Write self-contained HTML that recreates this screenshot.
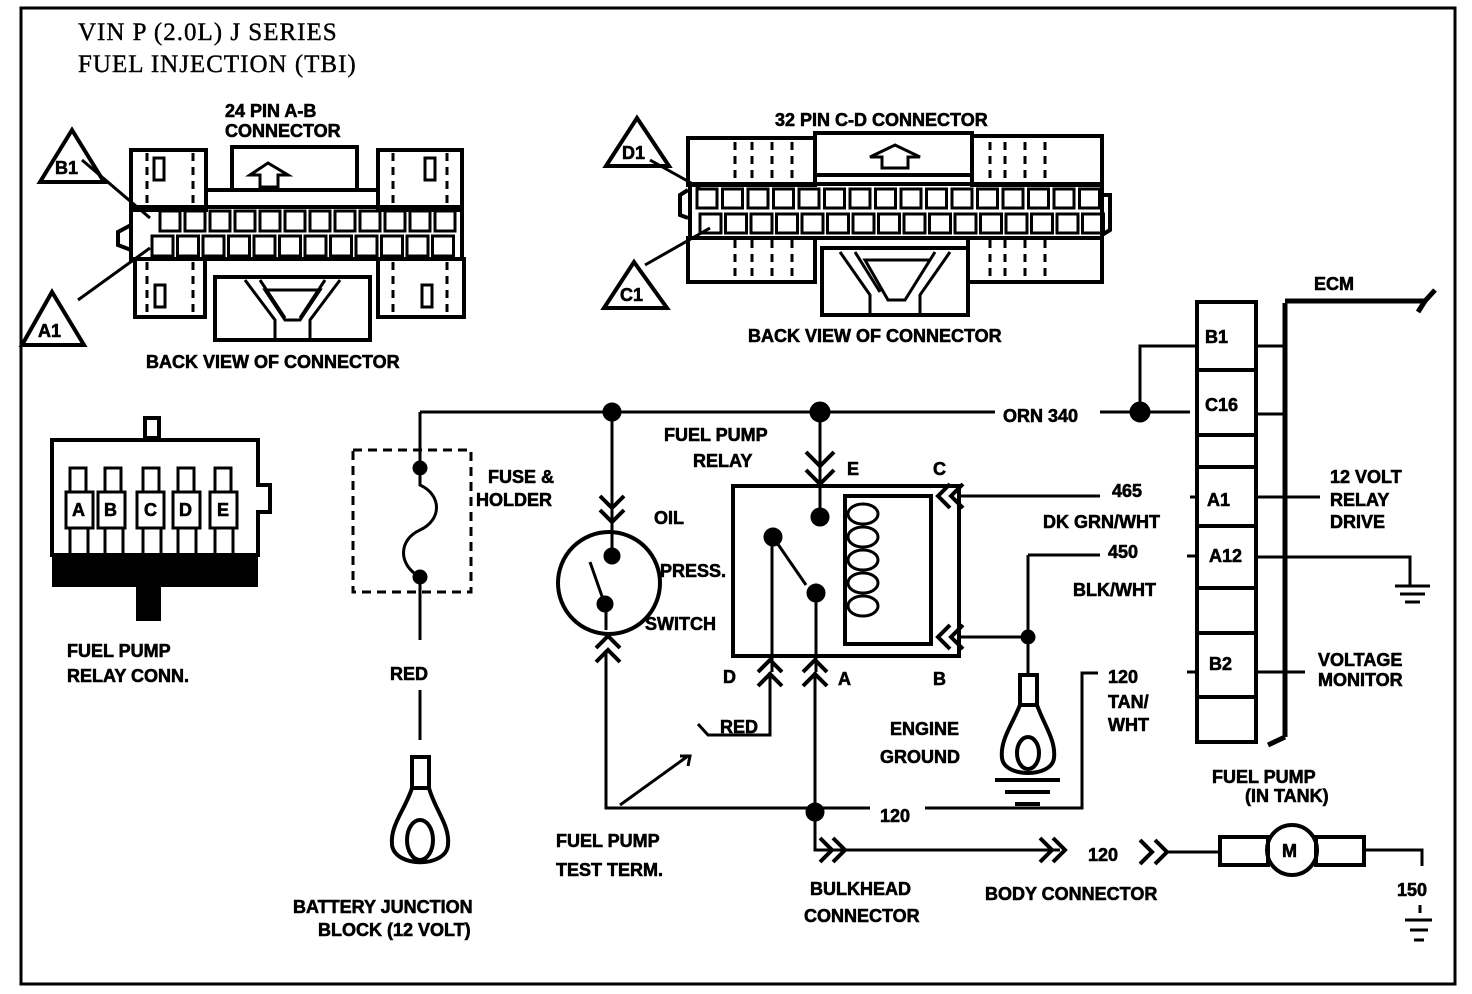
<!DOCTYPE html>
<html><head><meta charset="utf-8"><style>
html,body{margin:0;padding:0;background:#fff;}
svg{display:block}
.t{font-family:"Liberation Sans",sans-serif;font-weight:bold;font-size:18px;fill:#000;stroke:#000 !important;stroke-width:0.6px !important}
.s{font-family:"Liberation Serif",serif;font-size:25px;fill:#000;letter-spacing:1px;stroke:#000 !important;stroke-width:0.4px !important}
</style></head><body>
<svg id="sv" width="1472" height="994" viewBox="0 0 1472 994" xmlns="http://www.w3.org/2000/svg" fill="none" stroke="#000" stroke-width="3">
<rect x="21" y="8" width="1434" height="976" stroke-width="3"/>
<text class="s" x="78" y="40">VIN  P  (2.0L)  J  SERIES</text>
<text class="s" x="78" y="72">FUEL  INJECTION  (TBI)</text>

<!-- connector 1 -->
<text class="t" x="225" y="117">24 PIN A-B</text>
<text class="t" x="225" y="137">CONNECTOR</text>
<g id="c1" stroke-width="4">
<rect x="131" y="150" width="75" height="60"/>
<rect x="232" y="147" width="125" height="43"/>
<rect x="378" y="150" width="84" height="60"/>
<path d="M206,190 H232 M357,190 H378"/>
<rect x="131" y="207" width="331" height="52"/>
<rect x="135" y="259" width="70" height="58"/>
<rect x="215" y="277" width="155" height="63"/>
<rect x="378" y="259" width="86" height="58"/>
<path d="M131,225 L118,232 L118,245 L131,250"/>
<rect x="154" y="158" width="10" height="22" stroke-width="3"/>
<rect x="425" y="158" width="10" height="22" stroke-width="3"/>
<rect x="155" y="285" width="10" height="22" stroke-width="3"/>
<rect x="422" y="285" width="10" height="22" stroke-width="3"/>
<path d="M147,153 V205 M193,153 V205 M393,153 V205 M447,153 V205 M147,262 V312 M193,262 V312 M393,262 V312 M447,262 V312" stroke-width="3" stroke-dasharray="8,6"/>
<path d="M250,175 L268,163 L288,175 H278 V187 H260 V175 Z" stroke-width="3"/>
<path d="M245,280 L275,320 V340 M340,280 L310,320 V340 M260,280 L285,318 M325,280 L300,318 M265,290 H320 L300,320 H285 Z" stroke-width="3"/>
</g>
<path d="M40,182 L72,130 L104,182 Z" stroke-width="4"/>
<text class="t" x="55" y="174" font-size="16">B1</text>
<path d="M82,160 L150,218" stroke-width="3"/>
<path d="M22,345 L52,292 L84,345 Z" stroke-width="4"/>
<text class="t" x="38" y="337" font-size="16">A1</text>
<path d="M78,300 L150,248" stroke-width="3"/>
<text class="t" x="146" y="368">BACK VIEW OF CONNECTOR</text>

<!-- connector 2 -->
<text class="t" x="775" y="126">32 PIN C-D  CONNECTOR</text>
<g stroke-width="4">
<rect x="688" y="138" width="127" height="47"/>
<rect x="815" y="133" width="157" height="42"/>
<rect x="972" y="136" width="130" height="49"/>
<rect x="690" y="184" width="412" height="54"/>
<rect x="688" y="238" width="127" height="44"/>
<rect x="822" y="248" width="146" height="67"/>
<rect x="968" y="238" width="134" height="44"/>
<path d="M688,190 L680,195 V215 L688,218 M1102,195 L1110,195 V230 L1102,235"/>
<path d="M735,142 V182 M752,142 V182 M772,142 V182 M792,142 V182 M990,142 V182 M1005,142 V182 M1025,142 V182 M1045,142 V182 M735,240 V278 M752,240 V278 M772,240 V278 M792,240 V278 M990,240 V278 M1005,240 V278 M1025,240 V278 M1045,240 V278" stroke-width="3" stroke-dasharray="8,6"/>
<path d="M870,157 L895,145 L920,157 H908 V168 H882 V157 Z" stroke-width="3"/>
<path d="M840,252 L870,295 V315 M950,252 L920,295 V315 M855,252 L880,292 M935,252 L910,292 M865,260 H930 L905,300 H888 Z" stroke-width="3"/>
</g>
<path d="M606,166 L637,118 L669,166 Z" stroke-width="4"/>
<text class="t" x="622" y="159" font-size="16">D1</text>
<path d="M650,160 L700,188" stroke-width="3"/>
<path d="M604,308 L634,262 L667,308 Z" stroke-width="4"/>
<text class="t" x="620" y="301" font-size="16">C1</text>
<path d="M645,265 L710,228" stroke-width="3"/>
<text class="t" x="748" y="342">BACK VIEW OF CONNECTOR</text>

<!-- relay conn -->
<g stroke-width="4">
<rect x="145" y="418" width="14" height="20"/>
<path d="M52,440 H258 V485 H270 V512 H258 V555 H52 Z"/>
</g>
<rect x="52" y="555" width="206" height="32" fill="#000" stroke="none"/>
<rect x="136" y="587" width="25" height="34" fill="#000" stroke="none"/>
<g stroke-width="3">
<rect x="66" y="492" width="27" height="36"/><rect x="98" y="492" width="27" height="36"/><rect x="137" y="492" width="27" height="36"/><rect x="173" y="492" width="27" height="36"/><rect x="210" y="492" width="27" height="36"/>
<path d="M70,468 h16 v24 h-16 z M105,468 h16 v24 h-16 z M143,468 h16 v24 h-16 z M178,468 h16 v24 h-16 z M215,468 h16 v24 h-16 z"/>
<path d="M70,528 v27 h18 v-27 M105,528 v27 h18 v-27 M143,528 v27 h18 v-27 M178,528 v27 h18 v-27 M215,528 v27 h18 v-27"/>
</g>
<g font-size="17">
<text class="t" x="72" y="516">A</text><text class="t" x="104" y="516">B</text><text class="t" x="144" y="516">C</text><text class="t" x="179" y="516">D</text><text class="t" x="217" y="516">E</text>
</g>
<text class="t" x="67" y="657">FUEL PUMP</text>
<text class="t" x="67" y="682">RELAY CONN.</text>

<!-- main wire -->
<path d="M420,412 H995 M1100,412 H1190 M420,412 V468 M420,468 V485 C442,495 442,520 420,530 C398,540 398,565 420,577 V640 M420,690 V740"/>
<circle cx="612" cy="412" r="8" fill="#000"/><circle cx="820" cy="412" r="9" fill="#000"/><circle cx="1140" cy="412" r="9" fill="#000"/>
<circle cx="420" cy="468" r="6" fill="#000"/><circle cx="420" cy="577" r="6" fill="#000"/>
<rect x="353" y="450" width="118" height="142" stroke-dasharray="9,6" stroke-width="3"/>
<text class="t" x="488" y="483">FUSE &amp;</text>
<text class="t" x="476" y="506">HOLDER</text>
<text class="t" x="390" y="680">RED</text>
<!-- battery lug -->
<g stroke-width="4">
<path d="M412,757 H429 V788 H412 Z"/>
<path d="M412,788 C405,810 390,825 392,845 C395,868 446,868 448,845 C450,825 435,810 429,788"/>
<ellipse cx="420" cy="840" rx="13" ry="20"/>
</g>
<text class="t" x="293" y="913">BATTERY JUNCTION</text>
<text class="t" x="318" y="936">BLOCK (12 VOLT)</text>

<!-- oil switch -->
<path d="M612,412 V520" />
<path d="M600,496 L612,508 L624,496 M600,510 L612,522 L624,510" stroke-width="4"/>
<circle cx="609" cy="583" r="51" stroke-width="4"/>
<path d="M612,522 V556 M590,562 L604,602 M606,605 V630" stroke-width="3"/>
<circle cx="612" cy="556" r="7" fill="#000"/><circle cx="605" cy="604" r="7" fill="#000"/>
<path d="M596,648 L608,636 L620,648 M596,662 L608,650 L620,662" stroke-width="4"/>
<path d="M606,650 V808 H870 M925,808 H1082 V673 H1098"/>
<text class="t" x="654" y="524">OIL</text>
<text class="t" x="660" y="577">PRESS.</text>
<text class="t" x="645" y="630">SWITCH</text>
<text class="t" x="664" y="441">FUEL PUMP</text>
<text class="t" x="693" y="467">RELAY</text>
<path d="M620,805 L688,756" stroke-width="3"/>
<path d="M680,756 L690,756 L688,766" stroke-width="3"/>
<text class="t" x="556" y="847">FUEL PUMP</text>
<text class="t" x="556" y="876">TEST TERM.</text>

<!-- relay -->
<path d="M820,412 V518"/>
<path d="M806,452 L820,466 L834,452 M806,470 L820,484 L834,470" stroke-width="4"/>
<rect x="733" y="486" width="226" height="170" stroke-width="4"/>
<rect x="845" y="496" width="86" height="148" stroke-width="4"/>
<g stroke-width="3">
<ellipse cx="863" cy="514" rx="15" ry="10"/><ellipse cx="863" cy="537" rx="15" ry="10"/><ellipse cx="863" cy="560" rx="15" ry="10"/><ellipse cx="863" cy="583" rx="15" ry="10"/><ellipse cx="863" cy="606" rx="15" ry="10"/>
</g>
<circle cx="820" cy="517" r="8" fill="#000"/>
<circle cx="773" cy="537" r="8" fill="#000"/>
<circle cx="816" cy="593" r="8" fill="#000"/>
<path d="M773,537 L806,585 M772,537 V672 M816,593 V672"/>
<path d="M758,672 L770,660 L782,672 M758,686 L770,674 L782,686" stroke-width="4"/>
<path d="M803,672 L815,660 L827,672 M803,686 L815,674 L827,686" stroke-width="4"/>
<path d="M770,672 V735 H708 L698,724 M815,672 V850 H850"/>
<circle cx="815" cy="812" r="8" fill="#000"/>
<text class="t" x="720" y="733">RED</text>
<text class="t" x="847" y="475">E</text>
<text class="t" x="933" y="475">C</text>
<text class="t" x="723" y="683">D</text>
<text class="t" x="838" y="685">A</text>
<text class="t" x="933" y="685">B</text>
<path d="M950,484 L938,496 L950,508 M963,484 L951,496 L963,508" stroke-width="4"/>
<path d="M960,496 H1100"/>
<path d="M950,625 L938,637 L950,649 M963,625 L951,637 L963,649" stroke-width="4"/>
<path d="M960,637 H1028 M1028,555 V675 M1028,555 H1100"/>
<circle cx="1028" cy="637" r="6" fill="#000"/>
<text class="t" x="1112" y="497">465</text>
<text class="t" x="1043" y="528">DK GRN/WHT</text>
<text class="t" x="1108" y="558">450</text>
<text class="t" x="1073" y="596">BLK/WHT</text>
<text class="t" x="1108" y="683">120</text>
<text class="t" x="1108" y="708">TAN/</text>
<text class="t" x="1108" y="731">WHT</text>
<!-- engine ground lug -->
<g stroke-width="4">
<path d="M1020,675 H1037 V705 H1020 Z"/>
<path d="M1020,705 C1012,725 1000,740 1002,758 C1004,778 1052,778 1054,758 C1056,740 1044,725 1037,705"/>
<ellipse cx="1028" cy="753" rx="11" ry="16"/>
<path d="M995,780 H1060 M1005,792 H1050 M1015,804 H1040"/>
</g>
<text class="t" x="890" y="735">ENGINE</text>
<text class="t" x="880" y="763">GROUND</text>
<text class="t" x="880" y="822">120</text>

<!-- bulkhead / pump -->
<path d="M820,838 L832,850 L820,862 M833,838 L845,850 L833,862" stroke-width="4"/>
<path d="M845,850 H1060"/>
<path d="M1040,838 L1052,850 L1040,862 M1053,838 L1065,850 L1053,862" stroke-width="4"/>
<text class="t" x="1088" y="861">120</text>
<path d="M1140,840 L1152,852 L1140,864 M1155,840 L1167,852 L1155,864" stroke-width="4"/>
<path d="M1167,852 H1220"/>
<rect x="1220" y="837" width="48" height="28" stroke-width="4"/>
<circle cx="1292" cy="850" r="25" stroke-width="4"/>
<rect x="1316" y="837" width="48" height="28" stroke-width="4"/>
<text class="t" x="1282" y="857" font-size="17">M</text>
<path d="M1364,850 H1422 V866"/>
<text class="t" x="1212" y="783">FUEL PUMP</text>
<text class="t" x="1245" y="802" font-size="12">(IN TANK)</text>
<text class="t" x="810" y="895">BULKHEAD</text>
<text class="t" x="804" y="922">CONNECTOR</text>
<text class="t" x="985" y="900">BODY CONNECTOR</text>
<text class="t" x="1397" y="896">150</text>
<path d="M1420,905 V913 M1405,920 H1432 M1410,930 H1428 M1414,940 H1424" stroke-width="3"/>

<!-- ECM -->
<rect x="1197" y="302" width="59" height="440" stroke-width="4"/>
<path d="M1197,370 H1256 M1197,435 H1256 M1197,467 H1256 M1197,526 H1256 M1197,588 H1256 M1197,633 H1256 M1197,697 H1256" stroke-width="4"/>
<path d="M1285,303 V737 M1285,301 H1425 L1435,290 M1425,301 L1418,312 M1285,737 L1268,745" stroke-width="5"/>
<text class="t" x="1314" y="290">ECM</text>
<text class="t" x="1205" y="343">B1</text>
<text class="t" x="1205" y="411">C16</text>
<text class="t" x="1207" y="506">A1</text>
<text class="t" x="1209" y="562">A12</text>
<text class="t" x="1209" y="670">B2</text>
<path d="M1140,412 V346 H1197 M1256,346 H1285 M1256,414 H1285 M1190,497 H1197 M1256,497 H1320 M1187,556 H1197 M1256,557 H1410 V585 M1395,586 H1430 M1400,594 H1425 M1405,602 H1420 M1187,672 H1197 M1256,672 H1305"/>
<text class="t" x="1003" y="422">ORN 340</text>
<text class="t" x="1330" y="483">12 VOLT</text>
<text class="t" x="1330" y="506">RELAY</text>
<text class="t" x="1330" y="528">DRIVE</text>
<text class="t" x="1318" y="666">VOLTAGE</text>
<text class="t" x="1318" y="686">MONITOR</text>
<g id="pins"></g>
</svg>
<script>
var g=document.getElementById('pins'),ns='http://www.w3.org/2000/svg';
function r(x,y,w,h){var e=document.createElementNS(ns,'rect');e.setAttribute('x',x);e.setAttribute('y',y);e.setAttribute('width',w);e.setAttribute('height',h);e.setAttribute('stroke-width','3');g.appendChild(e);}
for(var i=0;i<12;i++){r(160+i*25,211,20,20);r(152+i*25.5,236,21,20);}
for(var i=0;i<16;i++){r(697+i*25.5,189,20,19);r(700+i*25.5,214,21,19);}
</script>
</body></html>
